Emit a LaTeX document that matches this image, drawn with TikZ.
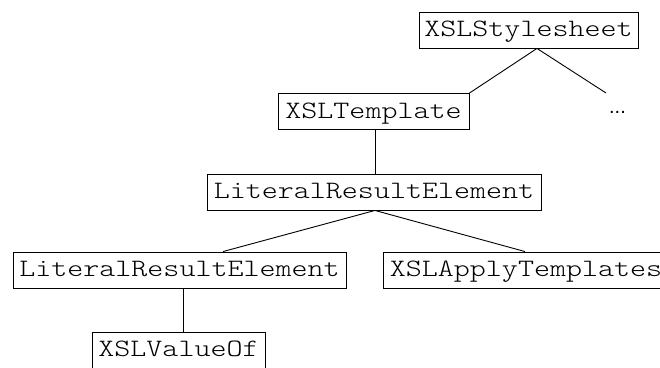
\documentclass[tikz,border=0pt]{standalone}
\usepackage{fontspec}
\newfontfamily\elemfont{Latin Modern Mono Light}[FakeStretch=1.22]
\newfontfamily\labelsans{Liberation Sans}
\usetikzlibrary{calc}

\tikzset{
  elem/.style={draw=black, line width=0.9pt, inner sep=0pt, minimum height=36pt,
    text height=20pt, text depth=7pt, align=center,
    font=\elemfont\fontsize{25}{30}\selectfont},
  link/.style={draw=black, line width=0.9pt}
}

\begin{document}
\begin{tikzpicture}[x=1pt, y=-1pt]
  \useasboundingbox (0,0) rectangle (660,367);
  \clip (0,0) rectangle (660,367);

  % element tree
  \node[elem, minimum width=219pt] (ss)   at (528.5,30)  {XSLStylesheet};
  \node[elem, minimum width=191pt] (tpl)  at (373.5,111.5) {XSLTemplate};
  \node[elem, minimum width=334pt] (lre1) at (374,192)   {LiteralResultElement};
  \node[elem, minimum width=333pt] (lre2) at (179.5,270) {LiteralResultElement};
  \node[elem, minimum width=286pt] (xat)  at (526,270)   {XSLApplyTemplates};
  \node[elem, minimum width=173pt] (xvo)  at (178.5,350) {XSLValueOf};

  % elided siblings of the template
  \coordinate (more) at (606,93);
  \node[anchor=base, inner sep=0pt, font=\labelsans\fontsize{20}{22}\selectfont] (dots) at (617.5,113) {...};

  % edges
  \draw[link] ($(ss.south)+(8.5,0)$) -- (tpl.north east);
  \draw[link] ($(ss.south)+(8.5,0)$) -- (more);
  \draw[link] ($(tpl.south)+(2,0)$) -- ($(lre1.north)+(1.5,0)$);
  \draw[link] ($(lre1.south)+(1,0)$) -- ($(lre2.north)+(43.5,0)$);
  \draw[link] ($(lre1.south)+(1,0)$) -- ($(xat.north)+(-1,0)$);
  \draw[link] ($(lre2.south)+(3.5,0)$) -- ($(xvo.north)+(4.5,0)$);
\end{tikzpicture}
\end{document}
